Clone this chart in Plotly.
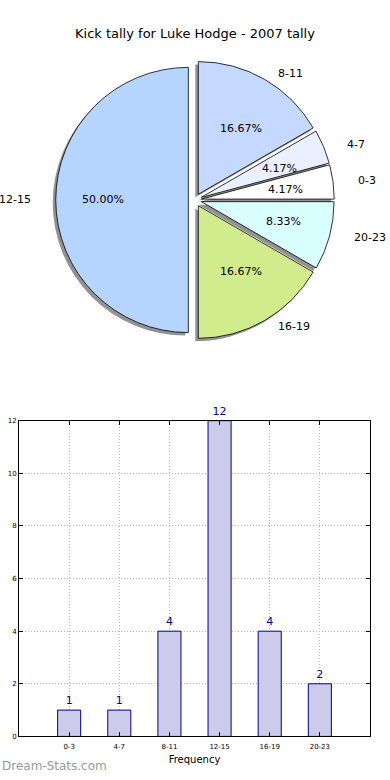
import plotly.graph_objects as go
import math

categories = ["0-3", "4-7", "8-11", "12-15", "16-19", "20-23"]
counts = [1, 1, 4, 12, 4, 2]
pie_colors = ["#ffffff", "#eaf0ff", "#c5d8ff", "#b5d5ff", "#d0ec8c", "#d9ffff"]
y_ticks = [0, 2, 4, 6, 8, 10, 12]

W, H = 390, 780
# pie layout (pixels)
cx, cy = 195, 198
r = 134
pull = 0.05
rx_txt, ry_txt = 141, 128
box = 2 * r * (1 + pull)

total = sum(counts)
# plotly places the first slice clockwise of the rotation line when counterclockwise
rotation = 90 - 360 * counts[0] / total

def px(x):
    return x / W

def py(y):
    return 1 - y / H

fig = go.Figure()

shadow_dx, shadow_dy = -3, 3
fig.add_trace(go.Pie(
    values=counts, labels=categories, sort=False, direction="counterclockwise",
    rotation=rotation, pull=[pull] * len(counts), textinfo="none", hoverinfo="skip",
    marker=dict(colors=["rgba(110,110,110,0.75)"] * len(counts), line=dict(width=0)),
    domain=dict(x=[px(cx + shadow_dx - box / 2), px(cx + shadow_dx + box / 2)],
                y=[py(cy + shadow_dy + box / 2), py(cy + shadow_dy - box / 2)]),
    showlegend=False,
))
fig.add_trace(go.Pie(
    values=counts, labels=categories, sort=False, direction="counterclockwise",
    rotation=rotation, pull=[pull] * len(counts), textinfo="none", hoverinfo="label+percent",
    marker=dict(colors=pie_colors, line=dict(color="#000000", width=0.8)),
    domain=dict(x=[px(cx - box / 2), px(cx + box / 2)],
                y=[py(cy + box / 2), py(cy - box / 2)]),
    showlegend=False,
))

ann = []
start = 0.0
for cat, v in zip(categories, counts):
    frac = v / total
    mid = 2 * math.pi * (start + frac / 2)
    start += frac
    c, s = math.cos(mid), math.sin(mid)
    lx = cx + (pull + 1.1) * rx_txt * c
    ly = cy - (pull + 1.1) * ry_txt * s
    ann.append(dict(x=px(lx), y=py(ly), xref="paper", yref="paper", text=cat,
                    showarrow=False, xanchor="left" if c > 0 else "right", yanchor="middle",
                    font=dict(size=11, color="#000000")))
    tx = cx + (pull + 0.6) * rx_txt * c
    ty = cy - (pull + 0.6) * ry_txt * s
    ann.append(dict(x=px(tx), y=py(ty), xref="paper", yref="paper", text=f"{frac*100:.2f}%",
                    showarrow=False, xanchor="center", yanchor="middle",
                    font=dict(size=11, color="#000000")))

fig.add_trace(go.Bar(
    x=list(range(len(categories))), y=counts, width=0.46,
    marker=dict(color="#ccccea", line=dict(color="#00008b", width=1)),
    text=[str(v) for v in counts], textposition="outside", cliponaxis=False,
    textfont=dict(size=11, color="#00008b"), showlegend=False,
    xaxis="x", yaxis="y",
))

ann.append(dict(x=px(195), y=py(30), xref="paper", yref="paper",
                text="Kick tally for Luke Hodge - 2007 tally", showarrow=False,
                xanchor="center", yanchor="middle", font=dict(size=13, color="#000000")))
ann.append(dict(x=px(0), y=py(770), xref="paper", yref="paper", text="Dream-Stats.com",
                showarrow=False, xanchor="left", yanchor="middle",
                font=dict(size=12, color="#9a9a9a")))
ann.append(dict(x=px(-6), y=py(582), xref="paper", yref="paper", text="Distribution",
                showarrow=False, textangle=-90, xanchor="center", yanchor="middle",
                font=dict(size=11, color="#000000")))

grid_style = dict(showgrid=True, gridcolor="#b8b8b8", griddash="1px,2px", gridwidth=1)

fig.update_layout(
    width=W, height=H, margin=dict(l=0, r=0, t=0, b=0),
    paper_bgcolor="#ffffff", plot_bgcolor="#ffffff",
    font=dict(family="DejaVu Sans", color="#000000"),
    annotations=ann,
    xaxis=dict(domain=[px(19), px(370)], range=[-1, 6], tickmode="array",
               tickvals=list(range(len(categories))), ticktext=categories,
               tickfont=dict(size=7), ticks="inside", ticklen=4, tickcolor="#000000",
               ticklabelstandoff=3,
               showline=True, linecolor="#000000", linewidth=1, mirror="allticks",
               zeroline=False, fixedrange=True,
               title=dict(text="Frequency", font=dict(size=10), standoff=6),
               anchor="y", **grid_style),
    yaxis=dict(domain=[py(740), py(421)], range=[0, 12], tickmode="array",
               tickvals=y_ticks, tickfont=dict(size=7), ticks="inside", ticklen=4,
               tickcolor="#000000", showline=True, linecolor="#000000", linewidth=1,
               mirror="allticks", zeroline=False, fixedrange=True, anchor="x",
               **grid_style),
)

fig.write_html("out.html", config={"displayModeBar": False},
               post_script="document.body.style.margin='0';")
